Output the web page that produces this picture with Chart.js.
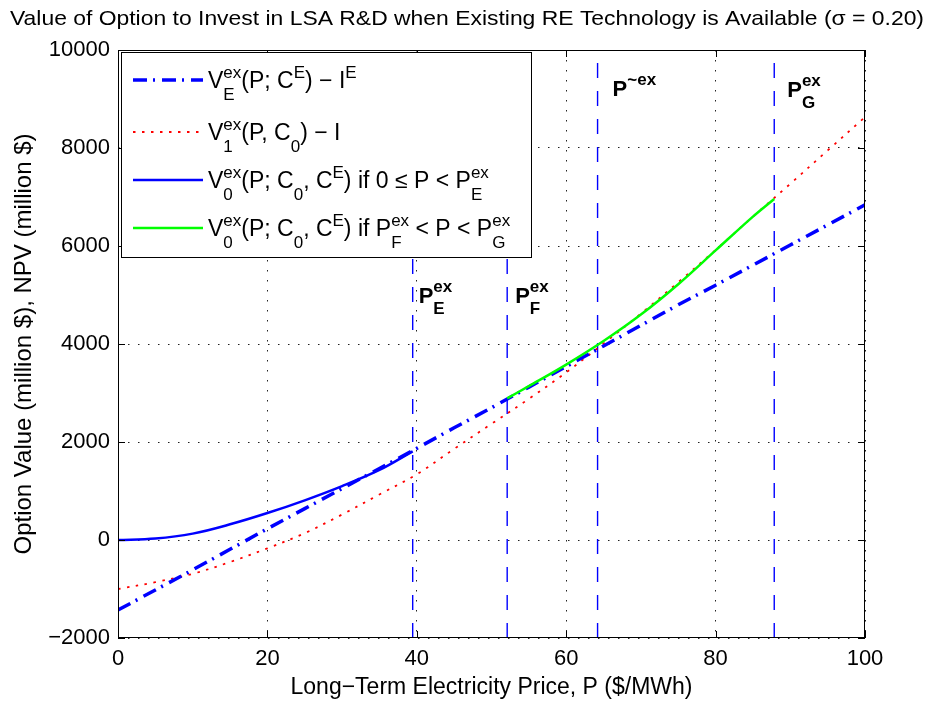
<!DOCTYPE html>
<html><head><meta charset="utf-8">
<script src="https://cdn.jsdelivr.net/npm/chart.js@4.4.1/dist/chart.umd.min.js"></script>
<style>html,body{margin:0;padding:0;background:#fff}#wrap{width:929px;height:702px}</style>
</head><body><div id="wrap"><canvas id="c" width="929" height="702"></canvas></div>
<script>
const chartTitle = 'Value of Option to Invest in LSA R&D when Existing RE Technology is Available (\u03C3 = 0.20)';
const xAxisTitle = 'Long\u2212Term Electricity Price, P ($/MWh)';
const yAxisTitle = 'Option Value (million $), NPV (million $)';
const xTicks = [0, 20, 40, 60, 80, 100];
const yTicks = [-2000, 0, 2000, 4000, 6000, 8000, 10000];

// Full price range (dash-dot and dotted curves)
const priceFull = [0, 5, 10, 15, 20, 25, 30, 35, 40, 45, 50, 55, 60, 65, 70, 75, 80, 85, 90, 95, 100];
const valueVE = [-1430, -1020, -610, -190, 230, 640, 1050, 1460, 1870, 2290, 2700, 3120, 3540, 3960, 4380, 4800, 5200, 5610, 6020, 6430, 6840];
const valueV1 = [-1000, -860, -690, -450, -170, 140, 520, 930, 1340, 1860, 2370, 2880, 3420, 4010, 4620, 5260, 5920, 6600, 7270, 7950, 8630];

// V0 for 0 <= P < PE
const priceLow = [0, 5, 10, 15, 20, 25, 30, 35, 39.45];
const valueV0Low = [0, 30, 130, 320, 550, 810, 1100, 1430, 1810];

// V0 for PF < P < PG
const priceHigh = [52.1, 55, 60, 65, 70, 75, 80, 85, 87.85];
const valueV0High = [2890, 3140, 3580, 4060, 4600, 5220, 5910, 6600, 6960];

// Threshold prices
const thresholdPrices = [39.45, 52.1, 64.2, 87.85];
const thresholdLabelValues = [4840, 4840, 9070, 9050];

const FAM = '"Liberation Sans", Arial, Helvetica, sans-serif';
const toPts = (xs, ys) => xs.map((x, i) => ({x: x, y: ys[i]}));
const vLine = p => [{x: p, y: yTicks[0]}, {x: p, y: yTicks[yTicks.length - 1]}];

function rich(ctx, x, y, tokens, big, small, weight, up, down) {
  let cx = x;
  ctx.textBaseline = 'alphabetic';
  ctx.textAlign = 'left';
  for (const tk of tokens) {
    if (tk.t !== undefined) {
      ctx.font = weight + ' ' + big + 'px ' + FAM;
      ctx.fillText(tk.t, cx, y);
      cx += ctx.measureText(tk.t).width;
    } else {
      ctx.font = weight + ' ' + small + 'px ' + FAM;
      let w = 0;
      if (tk.sup) { ctx.fillText(tk.sup, cx, y - up); w = Math.max(w, ctx.measureText(tk.sup).width); }
      if (tk.sub) { ctx.fillText(tk.sub, cx, y + down); w = Math.max(w, ctx.measureText(tk.sub).width); }
      cx += w;
    }
  }
}

const legendItems = [
  {color: '#0000ff', width: 3.5, dash: [14, 6, 2, 7], tokens: [{t: 'V'}, {sup: 'ex', sub: 'E'}, {t: '(P; C'}, {sup: 'E'}, {t: ') \u2212 I'}, {sup: 'E'}]},
  {color: '#ff0000', width: 1.8, dash: [2.5, 6.5], tokens: [{t: 'V'}, {sup: 'ex', sub: '1'}, {t: '(P, C'}, {sub: '0'}, {t: ') \u2212 I'}]},
  {color: '#0000ff', width: 2.5, dash: [], tokens: [{t: 'V'}, {sup: 'ex', sub: '0'}, {t: '(P; C'}, {sub: '0'}, {t: ', C'}, {sup: 'E'}, {t: ') if 0 \u2264 P < P'}, {sup: 'ex', sub: 'E'}]},
  {color: '#00ff00', width: 2.5, dash: [], tokens: [{t: 'V'}, {sup: 'ex', sub: '0'}, {t: '(P; C'}, {sub: '0'}, {t: ', C'}, {sup: 'E'}, {t: ') if P'}, {sup: 'ex', sub: 'F'}, {t: ' < P < P'}, {sup: 'ex', sub: 'G'}]}
];
const thresholdTokens = [
  [{t: 'P'}, {sup: 'ex', sub: 'E'}],
  [{t: 'P'}, {sup: 'ex', sub: 'F'}],
  [{t: 'P'}, {sup: '~ex'}],
  [{t: 'P'}, {sup: 'ex', sub: 'G'}]
];
const thresholdDx = [6, 8, 15, 13];

const overlay = {
  id: 'overlay',
  afterDatasetsDraw(chart) {
    const ctx = chart.ctx, a = chart.chartArea, xs = chart.scales.x, ys = chart.scales.y;
    ctx.save();
    ctx.strokeStyle = '#000';
    ctx.lineWidth = 1;
    ctx.setLineDash([]);
    const seg = (x1, y1, x2, y2) => { ctx.beginPath(); ctx.moveTo(x1, y1); ctx.lineTo(x2, y2); ctx.stroke(); };
    xTicks.forEach(v => { const px = Math.round(xs.getPixelForValue(v)) + 0.5; seg(px, a.bottom, px, a.bottom - 7); seg(px, a.top, px, a.top + 7); });
    yTicks.forEach(v => { const py = Math.round(ys.getPixelForValue(v)) + 0.5; seg(a.left, py, a.left + 7, py); seg(a.right, py, a.right - 7, py); });
    ctx.strokeRect(a.left + 0.5, a.top + 0.5, a.right - a.left - 1, a.bottom - a.top - 1);

    // threshold labels
    ctx.fillStyle = '#000';
    thresholdPrices.forEach((p, i) => {
      const px = xs.getPixelForValue(p) + thresholdDx[i];
      const py = ys.getPixelForValue(thresholdLabelValues[i]);
      rich(ctx, px, py, thresholdTokens[i], 22, 17, 'bold', 11, 11);
    });

    // legend
    const lx = a.left + 3, ly = a.top + 2, lw = 410, lh = 205;
    ctx.fillStyle = '#fff';
    ctx.fillRect(lx, ly, lw, lh);
    ctx.strokeStyle = '#000';
    ctx.lineWidth = 1;
    ctx.strokeRect(lx + 0.5, ly + 0.5, lw, lh);
    const rowY = [80, 132, 180, 228];
    legendItems.forEach((it, i) => {
      ctx.strokeStyle = it.color;
      ctx.lineWidth = it.width;
      ctx.setLineDash(it.dash);
      ctx.beginPath(); ctx.moveTo(lx + 12, rowY[i]); ctx.lineTo(lx + 82, rowY[i]); ctx.stroke();
      ctx.setLineDash([]);
      ctx.fillStyle = '#000';
      rich(ctx, lx + 87, rowY[i] + 8, it.tokens, 23, 17, 'normal', 10, 12);
    });
    ctx.restore();
  },
  afterDraw(chart) {
    const ctx = chart.ctx;
    ctx.save();
    ctx.fillStyle = '#000';
    ctx.font = '21px ' + FAM;
    ctx.textBaseline = 'alphabetic';
    ctx.textAlign = 'left';
    const w = ctx.measureText(chartTitle).width;
    const sx = 914 / w;
    ctx.translate(10, 25);
    ctx.scale(sx, 1);
    ctx.fillText(chartTitle, 0, 0);
    ctx.restore();
  }
};

const vStyle = {borderColor: '#0000ff', borderWidth: 1.4, borderDash: [15, 13], pointRadius: 0, order: 6};

new Chart(document.getElementById('c'), {
  type: 'line',
  data: {
    datasets: [
      {label: 'VE', data: toPts(priceFull, valueVE), borderColor: '#0000ff', borderWidth: 3.5, borderDash: [14, 6, 2, 7], pointRadius: 0, order: 2},
      {label: 'V1', data: toPts(priceFull, valueV1), borderColor: '#ff0000', borderWidth: 1.8, borderDash: [2.5, 6.5], tension: 0.35, pointRadius: 0, order: 3},
      {label: 'V0 low', data: toPts(priceLow, valueV0Low), borderColor: '#0000ff', borderWidth: 2.5, tension: 0.35, pointRadius: 0, order: 1},
      {label: 'V0 high', data: toPts(priceHigh, valueV0High), borderColor: '#00ff00', borderWidth: 2.5, tension: 0.35, pointRadius: 0, order: 0},
      Object.assign({label: 'PE', data: vLine(thresholdPrices[0])}, vStyle),
      Object.assign({label: 'PF', data: vLine(thresholdPrices[1])}, vStyle),
      Object.assign({label: 'PT', data: vLine(thresholdPrices[2])}, vStyle),
      Object.assign({label: 'PG', data: vLine(thresholdPrices[3])}, vStyle)
    ]
  },
  options: {
    responsive: false,
    animation: false,
    devicePixelRatio: 1,
    layout: {padding: {top: 50, right: 64, left: 0, bottom: 0}},
    plugins: {legend: {display: false}, title: {display: false}, tooltip: {enabled: false}},
    elements: {line: {fill: false, tension: 0}},
    scales: {
      x: {
        type: 'linear', min: 0, max: 100,
        afterFit: s => { s.height = 64; },
        afterBuildTicks: s => { s.ticks = xTicks.map(v => ({value: v})); },
        ticks: {font: {size: 22, family: FAM}, color: '#000', padding: 8, maxRotation: 0},
        grid: {color: '#222', lineWidth: 1, drawTicks: false},
        border: {display: false, dash: [1.5, 8.5]},
        title: {display: true, text: xAxisTitle, color: '#000', font: {size: 23, family: FAM}, padding: {top: 0, bottom: 1}}
      },
      y: {
        type: 'linear', min: -2000, max: 10000,
        afterFit: s => { s.width = 118; },
        afterBuildTicks: s => { s.ticks = yTicks.map(v => ({value: v})); },
        ticks: {font: {size: 22, family: FAM}, color: '#000', padding: 8, callback: v => String(v).replace('-', '\u2212')},
        grid: {color: '#222', lineWidth: 1, drawTicks: false},
        border: {display: false, dash: [1.5, 8.5]},
        title: {display: true, text: yAxisTitle, color: '#000', font: {size: 24, family: FAM}, padding: {top: 10, bottom: 0}}
      }
    }
  },
  plugins: [overlay]
});
</script></body></html>
